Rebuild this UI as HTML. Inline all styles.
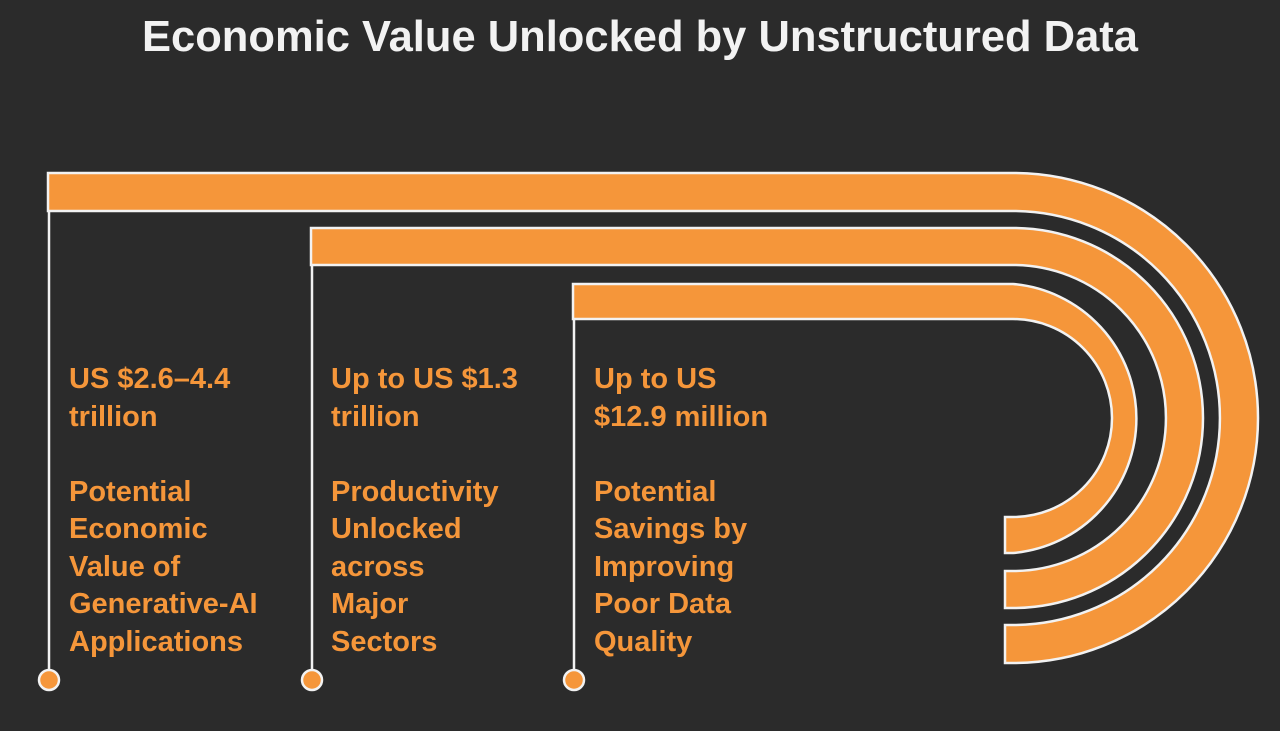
<!DOCTYPE html>
<html><head><meta charset="utf-8"><style>
html,body{margin:0;padding:0;background:#2b2b2b;}
body{width:1280px;height:731px;overflow:hidden;position:relative;font-family:"Liberation Sans",sans-serif;}
.t{position:absolute;top:13px;left:0;width:1280px;text-align:center;color:#f2f2f2;font-weight:bold;font-size:43.5px;}
.c{position:absolute;color:#f5963a;font-weight:bold;font-size:29px;line-height:37.5px;}
</style></head><body>
<div class="t">Economic Value Unlocked by Unstructured Data</div>
<svg width="1280" height="731" style="position:absolute;left:0;top:0">
<g fill="#f5963a" stroke="#f2f2f2" stroke-width="2.5">
<path d="M48 173 H1013 A245 245 0 0 1 1013 663 H1005 V625 H1013 A207 207 0 0 0 1013 211 H48 Z"/>
<path d="M311 228 H1013 A190 190 0 0 1 1013 608 H1005 V571 H1013 A153 153 0 0 0 1013 265 H311 Z"/>
<path d="M573 284 H1013 A135 135 0 0 1 1013 553 H1005 V517 H1013 A99 99 0 0 0 1013 319 H573 Z"/>
</g>
<g stroke="#f2f2f2" stroke-width="2.5">
<line x1="49" y1="211" x2="49" y2="672"/>
<line x1="312" y1="265" x2="312" y2="672"/>
<line x1="574" y1="319" x2="574" y2="672"/>
</g>
<g fill="#f5963a" stroke="#f2f2f2" stroke-width="2.5">
<circle cx="49" cy="680" r="10"/><circle cx="312" cy="680" r="10"/><circle cx="574" cy="680" r="10"/>
</g>
</svg>
<div class="c" style="left:69px;top:361px">US $2.6–4.4<br>trillion<br><br>Potential<br>Economic<br>Value of<br>Generative-AI<br>Applications</div>
<div class="c" style="left:331px;top:361px">Up to US $1.3<br>trillion<br><br>Productivity<br>Unlocked<br>across<br>Major<br>Sectors</div>
<div class="c" style="left:594px;top:361px">Up to US<br>$12.9 million<br><br>Potential<br>Savings by<br>Improving<br>Poor Data<br>Quality</div>
</body></html>
